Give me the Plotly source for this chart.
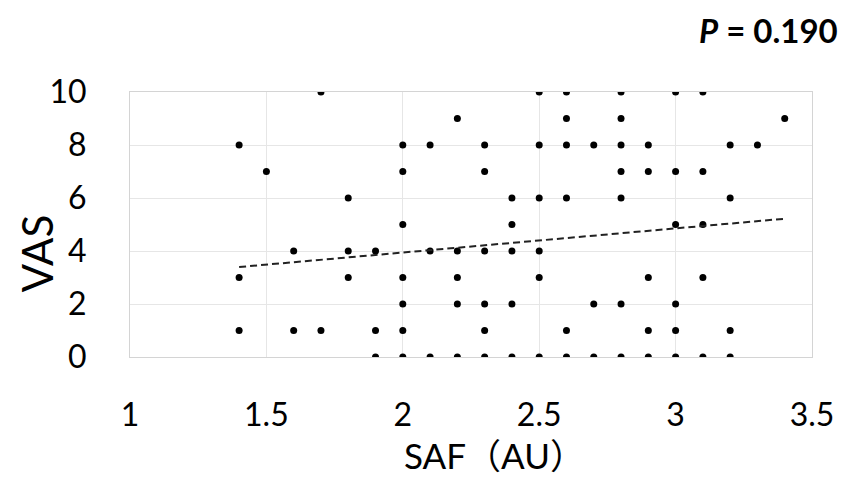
import numpy as np
import plotly.graph_objects as go

# SAF (AU) values and corresponding VAS scores
saf = [
    1.7, 2.5, 2.6, 2.8, 3.0, 3.1,                     # VAS 10
    2.2, 2.6, 2.8, 3.4,                               # VAS 9
    1.4, 2.0, 2.1, 2.3, 2.5, 2.6, 2.7, 2.8, 2.9, 3.2, 3.3,  # VAS 8
    1.5, 2.0, 2.3, 2.8, 2.9, 3.0, 3.1,                # VAS 7
    1.8, 2.4, 2.5, 2.6, 2.8, 3.2,                     # VAS 6
    2.0, 2.4, 3.0, 3.1,                               # VAS 5
    1.6, 1.8, 1.9, 2.1, 2.2, 2.3, 2.4, 2.5,           # VAS 4
    1.4, 1.8, 2.0, 2.2, 2.5, 2.9, 3.1,                # VAS 3
    2.0, 2.2, 2.3, 2.4, 2.7, 2.8, 3.0,                # VAS 2
    1.4, 1.6, 1.7, 1.9, 2.0, 2.3, 2.6, 2.9, 3.0, 3.2, # VAS 1
    1.9, 2.0, 2.1, 2.2, 2.3, 2.4, 2.5, 2.6, 2.7, 2.8, 2.9, 3.0, 3.1, 3.2,  # VAS 0
]
vas = (
    [10] * 6 + [9] * 4 + [8] * 11 + [7] * 7 + [6] * 6 + [5] * 4 +
    [4] * 8 + [3] * 7 + [2] * 7 + [1] * 10 + [0] * 14
)

x_ticks = [1, 1.5, 2, 2.5, 3, 3.5]
x_tick_labels = ["1", "1.5", "2", "2.5", "3", "3.5"]
y_ticks = [0, 2, 4, 6, 8, 10]
p_text = "<b><i>P</i> = 0.190</b>"

# least-squares trend line over the data range
slope, intercept = np.polyfit(saf, vas, 1)
trend_x = np.array([min(saf), max(saf)])
trend_y = slope * trend_x + intercept

FONT = "Lato, 'Noto Sans CJK JP', sans-serif"

fig = go.Figure()
fig.add_trace(go.Scatter(
    x=saf, y=vas, mode="markers",
    marker=dict(color="black", size=7),
    showlegend=False, hoverinfo="x+y",
))
fig.add_trace(go.Scatter(
    x=trend_x, y=trend_y, mode="lines",
    line=dict(color="#222222", width=2, dash="7px,4px"),
    showlegend=False, hoverinfo="skip",
))

fig.update_layout(
    width=838, height=469,
    margin=dict(l=122, r=28, t=84, b=120),
    paper_bgcolor="white", plot_bgcolor="white",
    font=dict(family=FONT, color="black"),
    xaxis=dict(
        range=[1, 3.5], tickvals=x_ticks, ticktext=x_tick_labels,
        showgrid=True, gridcolor="#e6e6e6", gridwidth=1,
        showline=True, linecolor="#d4d4d4", linewidth=1, mirror=True,
        zeroline=False, ticks="", ticklabelstandoff=30,
        tickfont=dict(size=32, family=FONT, color="black"),
    ),
    yaxis=dict(
        range=[0, 10], tickvals=y_ticks,
        showgrid=True, gridcolor="#e6e6e6", gridwidth=1,
        showline=True, linecolor="#d4d4d4", linewidth=1, mirror=True,
        zeroline=False, ticks="", ticklabelstandoff=36,
        tickfont=dict(size=32, family=FONT, color="black"),
    ),
    annotations=[
        dict(text="VAS", xref="paper", yref="paper", x=-0.137, y=0.39,
             xanchor="center", yanchor="middle", textangle=-90, showarrow=False,
             borderpad=0, font=dict(size=42, family=FONT, color="black")),
        dict(text="SAF（AU）", xref="paper", yref="paper", x=0.535, y=-0.368,
             xanchor="center", yanchor="middle", showarrow=False,
             borderpad=0, font=dict(size=35, family=FONT, color="black")),
        dict(text=p_text, xref="paper", yref="paper", x=1.039, y=1.234,
             xanchor="right", yanchor="middle", showarrow=False,
             borderpad=0, font=dict(size=33, family=FONT, color="black")),
    ],
)

fig.write_html("out.html")
